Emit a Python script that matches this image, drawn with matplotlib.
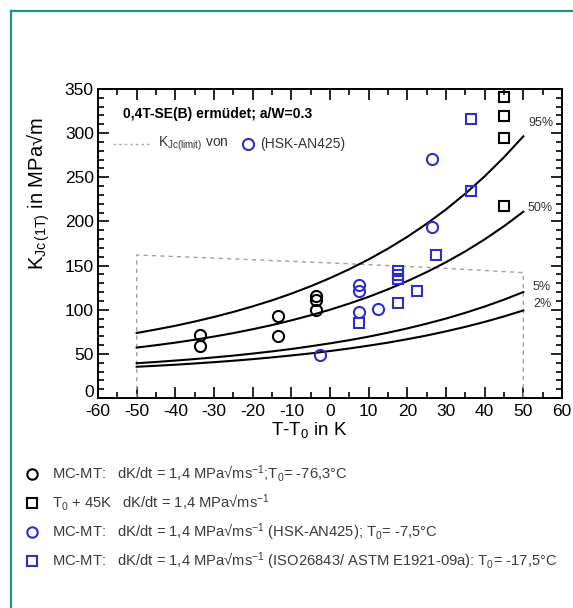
import matplotlib
matplotlib.use("Agg")
import matplotlib.pyplot as plt
import matplotlib.transforms as mtransforms
from matplotlib.ticker import MultipleLocator
from matplotlib.lines import Line2D

plt.rcParams['font.family'] = ['Liberation Sans', 'DejaVu Sans']
plt.rcParams['mathtext.fontset'] = 'custom'
plt.rcParams['mathtext.rm'] = 'Liberation Sans'
plt.rcParams['mathtext.it'] = 'Liberation Sans'
plt.rcParams['mathtext.bf'] = 'Liberation Sans:bold'
plt.rcParams['axes.unicode_minus'] = False

# ---- data ----
curve_T = [-50, -45, -40, -35, -30, -25, -20, -15, -10, -5, 0, 5, 10, 15, 20, 25, 30, 35, 40, 45, 50]
p95 = [73.6, 77.6, 81.8, 86.6, 91.8, 97.5, 103.8, 110.6, 118.2, 126.6, 135.8, 145.9, 157.0, 169.2, 182.6, 197.4, 213.6, 231.5, 251.1, 272.7, 296.4]
p50 = [57.1, 59.8, 62.7, 66.0, 69.6, 73.5, 77.9, 82.6, 87.9, 93.7, 100.0, 107.0, 114.6, 123.1, 132.4, 142.6, 153.8, 166.1, 179.7, 194.6, 211.0]
p05 = [39.4, 40.8, 42.4, 44.1, 46.0, 48.0, 50.3, 52.8, 55.5, 58.6, 61.9, 65.5, 69.5, 74.0, 78.8, 84.2, 90.0, 96.5, 103.6, 111.4, 120.0]
p02 = [35.4, 36.5, 37.7, 39.1, 40.6, 42.2, 44.0, 46.0, 48.2, 50.5, 53.2, 56.1, 59.3, 62.7, 66.6, 70.8, 75.5, 80.6, 86.2, 92.4, 99.2]
curve_labels = ["95%", "50%", "5%", "2%"]

limit_T = [-50, -50, 0, 25, 50, 50]
limit_K = [0, 162, 153, 148, 142, 0]

bc_T = [-33.5, -33.5, -13.5, -13.5, -3.5, -3.5, -3.5]
bc_K = [71, 59, 93, 70, 116, 111, 100]
bs_T = [45, 45, 45, 45]
bs_K = [341, 319, 295, 218]
uc_T = [-2.5, 7.5, 7.5, 7.5, 12.5, 26.5, 26.5]
uc_K = [49, 128, 121, 97, 101, 271, 194]
us_T = [7.5, 17.5, 17.5, 17.5, 17.5, 22.5, 27.5, 36.5, 36.5]
us_K = [85, 144, 139, 135, 108, 121, 162, 316, 234]

blue = "#2e2ec8"
legend_rows = [
    ("o", "black", r"MC-MT:   dK/dt = 1,4 MPa√ms$^{-1}$;T$_0$= -76,3°C"),
    ("s", "black", r"T$_0$ + 45K   dK/dt = 1,4 MPa√ms$^{-1}$"),
    ("o", blue, r"MC-MT:   dK/dt = 1,4 MPa√ms$^{-1}$ (HSK-AN425); T$_0$= -7,5°C"),
    ("s", blue, r"MC-MT:   dK/dt = 1,4 MPa√ms$^{-1}$ (ISO26843/ ASTM E1921-09a): T$_0$= -17,5°C"),
]

W, H = 573, 608
fig = plt.figure(figsize=(W / 100, H / 100), dpi=100)
fig.patch.set_facecolor("white")

# teal frame (left & top visible)
teal = "#1b9484"
fig.add_artist(Line2D([11 / W, 11 / W], [0, 1 - 11 / H], transform=fig.transFigure, color=teal, lw=1.6))
fig.add_artist(Line2D([11 / W, 1], [1 - 11 / H, 1 - 11 / H], transform=fig.transFigure, color=teal, lw=1.6))

x0, x1, y0, y1 = 98, 562, 89, 398
ax = fig.add_axes([x0 / W, 1 - y1 / H, (x1 - x0) / W, (y1 - y0) / H])
ax.set_xlim(-60, 60)
ax.set_ylim(0, 350)
ax.xaxis.set_major_locator(MultipleLocator(10))
ax.xaxis.set_minor_locator(MultipleLocator(5))
ax.yaxis.set_major_locator(MultipleLocator(50))
ax.yaxis.set_minor_locator(MultipleLocator(10))
ax.tick_params(which='both', direction='in', top=True, right=True, labelsize=12.5, width=1.2, pad=3)
ax.tick_params(axis='x', which='both', pad=4.5)
ax.tick_params(which='major', length=8)
ax.tick_params(which='minor', length=4.5)
for s in ax.spines.values():
    s.set_linewidth(1.4)

ax.plot(limit_T, limit_K, ls=(0, (3, 3)), color="#a0a0a0", lw=1.0)
for c in (p95, p50, p05, p02):
    ax.plot(curve_T, c, color="black", lw=1.5)

ms = 8
ax.plot(bc_T, bc_K, 'o', ms=ms, mfc='none', mec='black', mew=1.5, ls='none')
ax.plot(bs_T, bs_K, 's', ms=ms - 0.5, mfc='none', mec='black', mew=1.5, ls='none')
ax.plot(uc_T, uc_K, 'o', ms=ms, mfc='none', mec=blue, mew=1.5, ls='none')
ax.plot(us_T, us_K, 's', ms=ms - 0.5, mfc='none', mec=blue, mew=1.5, ls='none')

label_pos = [(51.2, 311), (51.0, 215), (52.5, 126), (52.5, 106)]
for lab, (tx, ty) in zip(curve_labels, label_pos):
    ax.text(tx, ty, lab, fontsize=9, color="#333333", ha='left', va='center')

ax.text(-53.5, 322, "0,4T-SE(B) ermüdet; a/W=0.3", fontsize=10, fontweight='bold', va='center')
ax.plot([-56, -46.5], [288, 288], ls=(0, (2, 2)), color="#b0b0b0", lw=1.0)
ax.text(-44.5, 288, r"K$_{Jc(limit)}$ von", fontsize=10, color="#333333", va='center')
ax.plot([-21.2], [288], 'o', ms=ms, mfc='none', mec=blue, mew=1.5)
ax.text(-18.0, 288, "(HSK-AN425)", fontsize=10, color="#333333", va='center')

ax.set_xlabel(r"T-T$_0$ in K", fontsize=13.5, labelpad=4)
ax.xaxis.set_label_coords(0.455, -0.07)
ax.set_ylabel(r"K$_{Jc\,(1T)}$ in MPa√m", fontsize=14.5, labelpad=8)
ax.yaxis.set_label_coords(-0.10, 0.66)

rows_y = [474, 503, 532, 561]
for (mk, col, txt), ry in zip(legend_rows, rows_y):
    fig.add_artist(Line2D([32 / W], [1 - ry / H], marker=mk, ms=7.5 if mk == 'o' else 7,
                          mfc='none', mec=col, mew=1.5, transform=fig.transFigure))
    fig.text(52 / W, 1 - ry / H, txt, fontsize=10.6, color="#3a3a3a", va='center', ha='left')

# lift the "0" y tick label slightly, as in the reference
fig.canvas.draw()
for t in ax.yaxis.get_major_ticks():
    if abs(t.get_loc()) < 1e-9:
        lbl = t.label1
        lbl.set_transform(lbl.get_transform() + mtransforms.ScaledTranslation(0, 5 / 72, fig.dpi_scale_trans))

fig.savefig("out.png", dpi=100, facecolor="white")
